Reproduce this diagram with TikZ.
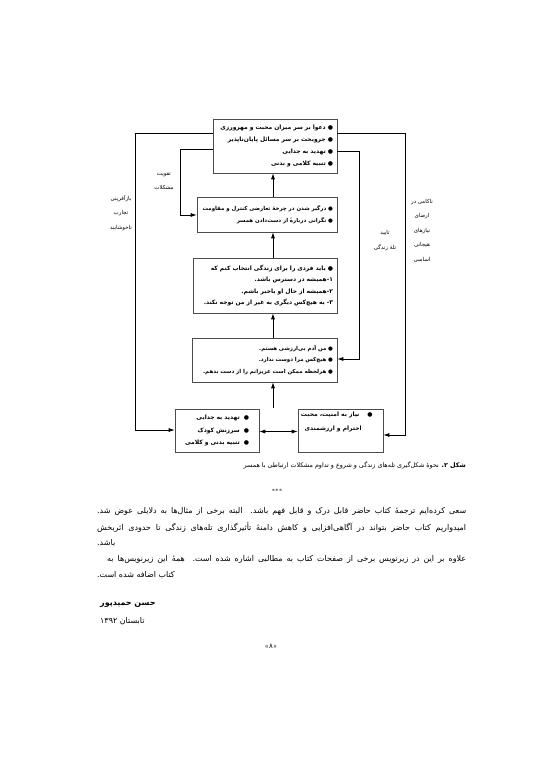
\documentclass[tikz,border=0pt]{standalone}
\usepackage{fontspec}
\TeXXeTstate=1
\newfontfamily\ar[Script=Arabic]{DejaVu Sans}
\usetikzlibrary{arrows.meta}
\tikzset{
 boxs/.style={draw=black!70, line width=0.6bp, inner xsep=4bp, inner ysep=0pt, align=right, font=\ar\bfseries\fontsize{6}{12}\selectfont},
 arr/.style={-{Latex[length=6bp,width=4bp]}, line width=0.7bp},
 dbl/.style={{Latex[length=6bp,width=4bp]}-{Latex[length=6bp,width=4bp]}, line width=0.7bp},
 lab/.style={font=\ar\fontsize{5.5}{14.5}\selectfont, align=center, inner sep=0pt},
 body/.style={font=\ar\fontsize{8}{16}\selectfont, inner sep=0pt, anchor=west},
}
\begin{document}
\begin{tikzpicture}[x=1bp,y=-1bp]
\useasboundingbox[fill=white] (0,0) rectangle (543,768);
% boxes
\node[boxs, text width=116bp, minimum width=124bp, minimum height=54bp] (top) at (275,146) {%
\beginR ●\ دعوا بر سر میزان محبت و مهرورزی\endR\\
\beginR ●\ جروبحث بر سر مسائل پایان‌ناپذیر\endR\\
\beginR ●\ تهدید به جدایی\endR\\
\beginR ●\ تنبیه کلامی و بدنی\endR};
\node[boxs, text width=132bp, minimum width=140bp, minimum height=35bp, font=\ar\bfseries\fontsize{5.5}{11.5}\selectfont] (b2) at (267,214.5) {%
\beginR ●\ درگیر شدن در چرخهٔ تعارضی کنترل و مقاومت\endR\\
\beginR ●\ نگرانی دربارهٔ از دست‌دادن همسر\endR};
\node[boxs, text width=136bp, minimum width=144bp, minimum height=55bp, font=\ar\bfseries\fontsize{6}{11.3}\selectfont] (b3) at (265,285.5) {%
\beginR ●\ باید فردی را برای زندگی انتخاب کنم که\endR\\
\beginR ۱-همیشه در دسترس باشد.\endR\hspace*{6bp}\\
\beginR ۲-همیشه از حال او باخبر باشم.\endR\hspace*{6bp}\\
\beginR ۳- به هیچ‌کس دیگری به غیر از من توجه نکند.\endR\hspace*{6bp}};
\node[boxs, text width=137bp, minimum width=145bp, minimum height=44bp, font=\ar\bfseries\fontsize{5.5}{11.3}\selectfont] (b4) at (264.5,360) {%
\beginR ●\ من آدم بی‌ارزشی هستم.\endR\\
\beginR ●\ هیچ‌کس مرا دوست ندارد.\endR\\
\beginR ●\ هرلحظه ممکن است عزیزانم را از دست بدهم.\endR};
\node[boxs, inner xsep=10bp, text width=64bp, minimum width=84bp, minimum height=43bp, font=\ar\bfseries\fontsize{6}{13}\selectfont] (bl) at (217,430.5) {%
\beginR ●\hspace{4bp}تهدید به جدایی\endR\\
\beginR ●\hspace{4bp}سرزنش کودک\endR\\
\beginR ●\hspace{4bp}تنبیه بدنی و کلامی\endR};
\node[draw=black!70, line width=0.6bp, minimum width=85bp, minimum height=43bp, inner sep=0pt] (br) at (340.5,430.5) {};
\node[boxs, draw=none, anchor=north east, inner xsep=0pt, font=\ar\bfseries\fontsize{6}{14}\selectfont] (brt) at (373,412) {%
\beginR ●\hspace{8bp}نیاز به امنیت، محبت\endR\\
\beginR احترام و ارزشمندی\endR\hspace*{11bp}};
% coordinates
\coordinate (ax) at (273,0);
\coordinate (st) at (273,408);
\coordinate (oL1) at (135,133);
\coordinate (oL2) at (135,430);
\coordinate (iL1) at (180,149);
\coordinate (iL2) at (180,215);
\coordinate (iR1) at (359,151);
\coordinate (iR2) at (359,359);
\coordinate (oR1) at (405,133);
\coordinate (oR2) at (405,435);
% vertical flow
\draw[arr] (st) -- (b4.south -| ax);
\draw[arr] (b4.north -| ax) -- (b3.south -| ax);
\draw[arr] (b3.north -| ax) -- (b2.south -| ax);
\draw[arr] (b2.north -| ax) -- (top.south -| ax);
% feedback loops
\draw[arr] (top.west |- oL1) -- (oL1) -- (oL2) -- (bl.west |- oL2);
\draw[arr] (top.west |- iL1) -- (iL1) -- (iL2) -- (b2.west |- iL2);
\draw[arr] (top.east |- iR1) -- (iR1) -- (iR2) -- (b4.east |- iR2);
\draw[arr] (top.east |- oR1) -- (oR1) -- (oR2) -- (br.east |- oR2);
\draw[dbl] (bl.east |- 0,431.5) -- (br.west |- 0,431.5);
% labels
\node[lab] (lbA) at (121,213) {\beginR بازآفرینی\endR\\ \beginR تجارب\endR\\ \beginR ناخوشایند\endR};
\node[lab] (lbB) at (164,181) {\beginR تقویت\endR\\ \beginR مشکلات\endR};
\node[lab] (lbC) at (385,240.5) {\beginR تایید\endR\\ \beginR تلهٔ زندگی\endR};
\node[lab] (lbD) at (422,230.5) {\beginR ناکامی در\endR\\ \beginR ارضای\endR\\ \beginR نیازهای\endR\\ \beginR هیجانی\endR\\ \beginR اساسی\endR};
% caption
\node[font=\ar\fontsize{6.4}{8}\selectfont, inner sep=0pt, anchor=east] (cap) at (466,465) {\beginR{\bfseries شکل ۲.} نحوهٔ شکل‌گیری تله‌های زندگی و شروع و تداوم مشکلات ارتباطی با همسر\endR};
% body text
\node[font=\fontsize{6}{8}\selectfont, inner sep=0pt] (stars) at (277,491) {***};
\node[body] (l1) at (97,511) {\makebox[369bp][s]{\beginR سعی کرده‌ایم ترجمهٔ کتاب حاضر قابل درک و قابل فهم باشد. البته برخی از مثال‌ها به دلایلی عوض شد.\endR}};
\node[body] (l2) at (97,527) {\makebox[369bp][s]{\beginR امیدواریم کتاب حاضر بتواند در آگاهی‌افزایی و کاهش دامنهٔ تأثیرگذاری تله‌های زندگی تا حدودی اثربخش\endR}};
\node[body] (l3) at (97,543) {\beginR باشد.\endR};
\node[body] (l4) at (107,559) {\makebox[359bp][s]{\beginR علاوه بر این در زیرنویس برخی از صفحات کتاب به مطالبی اشاره شده است. همهٔ این زیرنویس‌ها به\endR}};
\node[body] (l5) at (97,575) {\beginR کتاب اضافه شده است.\endR};
\node[body, font=\ar\bfseries\fontsize{8}{16}\selectfont] (sig) at (100,605) {\beginR حسن حمیدپور\endR};
\node[body] (dat) at (100,621) {\beginR تابستان \beginL۱۳۹۲\endL\endR};
\node[inner sep=0pt] (pg) at (271,646) {{\fontsize{7}{8}\selectfont «}{\ar\fontsize{7}{8}\selectfont ۸}{\fontsize{7}{8}\selectfont »}};
\end{tikzpicture}
\end{document}
